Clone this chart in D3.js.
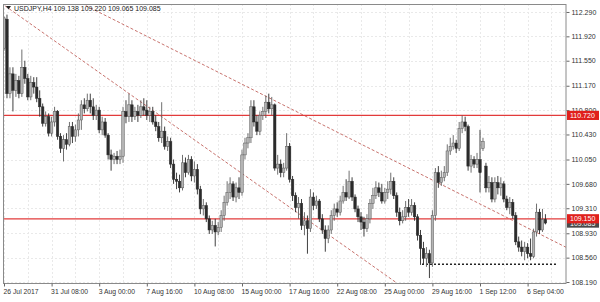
<!DOCTYPE html>
<html><head><meta charset="utf-8">
<script src="https://cdn.jsdelivr.net/npm/d3@7"></script>
<style>body{margin:0;background:#fff}svg{display:block}</style>
</head><body><svg id="c" width="600" height="302"></svg>
<script>
// ---- DATA (USDJPY H4) ----
const symbolTitle = "USDJPY,H4 109.138 109.220 109.065 109.085";
const open  = [111.74,112.18,111.05,111.35,111.10,111.25,111.05,111.45,111.28,111.00,111.22,111.15,110.98,110.85,110.60,110.70,110.45,110.62,110.78,110.40,110.22,110.35,110.28,110.55,110.40,110.50,110.65,110.88,110.82,110.95,110.85,110.72,110.80,110.50,110.62,110.42,110.12,110.05,110.10,110.05,110.10,110.78,110.70,110.88,110.70,110.78,110.72,110.85,110.80,110.72,110.78,110.62,110.55,110.38,110.48,110.25,110.32,109.98,109.75,109.72,109.62,110.00,109.85,110.05,109.80,109.90,109.60,109.30,109.35,109.15,108.98,109.05,108.95,109.02,109.20,109.40,109.55,109.68,109.48,109.62,109.55,110.12,110.30,110.38,110.85,110.62,110.48,110.72,110.78,110.92,110.82,110.88,109.92,109.98,109.85,109.92,110.25,109.75,109.50,109.32,109.38,109.05,109.12,109.00,109.48,109.35,109.42,109.15,108.98,108.85,108.98,109.20,109.30,109.25,109.42,109.55,109.48,109.72,109.48,109.30,109.18,109.10,109.00,109.15,109.38,109.50,109.62,109.55,109.42,109.55,109.60,109.72,109.50,109.25,109.12,109.18,109.32,109.25,109.35,109.18,108.90,108.70,108.55,108.62,108.48,109.20,109.85,109.70,109.78,109.85,110.18,110.25,110.30,110.22,110.52,110.62,110.55,109.95,110.05,109.98,110.05,110.22,109.95,109.62,109.70,109.45,109.70,109.62,109.68,109.45,109.32,109.40,109.20,108.80,108.72,108.65,108.72,108.62,108.58,108.95,109.25,108.98,109.138];
const high  = [112.22,112.25,111.45,111.45,111.35,111.32,111.72,111.55,111.35,111.32,111.30,111.30,111.10,110.90,110.78,110.75,110.70,110.85,110.80,110.45,110.42,110.45,110.62,110.62,110.58,110.75,110.95,110.98,111.05,111.05,110.98,110.88,110.85,110.70,110.68,110.45,110.20,110.15,110.18,110.20,110.85,110.95,111.05,110.95,110.85,110.88,110.95,110.98,110.95,110.85,110.85,110.72,110.62,110.92,110.55,110.40,110.38,110.05,109.85,109.82,110.12,110.08,110.12,110.10,110.02,109.98,109.65,109.45,109.40,109.20,109.12,109.15,109.10,109.28,109.50,109.72,109.78,109.72,109.70,109.78,110.20,110.38,110.45,110.95,110.95,110.72,110.78,110.85,111.02,111.05,111.00,110.90,110.12,110.05,110.00,110.45,110.30,109.80,109.55,109.48,109.45,109.25,109.20,109.60,109.55,109.50,109.45,109.22,109.05,109.05,109.28,109.38,109.40,109.50,109.65,109.75,109.88,109.78,109.52,109.35,109.25,109.18,109.22,109.45,109.62,109.72,109.70,109.68,109.62,109.72,109.85,109.78,109.55,109.32,109.28,109.42,109.45,109.45,109.40,109.22,108.98,108.80,108.72,108.68,109.28,109.92,109.95,109.88,109.95,110.28,110.38,110.42,110.35,110.62,110.72,110.70,110.58,110.12,110.10,110.15,110.50,110.38,110.00,109.80,109.78,109.78,109.80,109.78,109.72,109.50,109.48,109.45,109.25,108.88,108.82,108.80,108.78,108.85,109.00,109.38,109.30,109.30,109.220];
const low   = [111.70,110.98,110.98,110.78,111.00,110.98,111.00,111.20,110.95,110.95,111.05,110.92,110.70,110.55,110.55,110.40,110.40,110.55,110.35,110.15,110.02,110.20,110.25,110.30,110.32,110.40,110.50,110.75,110.78,110.75,110.65,110.65,110.45,110.42,110.38,110.05,109.88,109.98,109.98,109.98,110.00,110.60,110.62,110.62,110.65,110.62,110.68,110.72,110.65,110.62,110.58,110.48,110.32,110.30,110.20,110.18,109.92,109.68,109.60,109.55,109.58,109.78,109.82,109.72,109.70,109.52,109.22,109.20,109.10,108.92,108.92,108.73,108.90,108.95,109.12,109.35,109.45,109.42,109.40,109.45,109.50,110.05,110.22,110.30,110.55,110.42,110.42,110.65,110.68,110.75,110.72,109.88,109.82,109.78,109.78,109.88,109.70,109.42,109.25,109.15,108.98,108.90,108.62,108.95,109.28,109.30,109.10,108.92,108.65,108.78,108.92,109.12,109.18,109.20,109.38,109.42,109.45,109.42,109.25,109.10,108.98,108.88,108.95,109.08,109.30,109.45,109.48,109.38,109.38,109.45,109.52,109.45,109.18,109.05,109.08,109.12,109.18,109.20,109.12,108.82,108.45,108.45,108.42,108.25,108.42,109.12,109.62,109.65,109.72,109.80,110.12,110.20,110.15,110.18,110.45,110.48,109.88,109.85,109.92,109.92,109.55,110.18,109.55,109.55,109.40,109.40,109.52,109.50,109.40,109.28,109.22,109.15,108.75,108.65,108.58,108.52,108.55,108.52,108.55,108.88,108.92,108.95,109.065];
const close = [112.20,111.05,111.35,111.10,111.25,111.05,111.45,111.28,111.00,111.22,111.15,110.98,110.85,110.60,110.70,110.45,110.62,110.78,110.40,110.22,110.35,110.28,110.55,110.40,110.50,110.65,110.88,110.82,110.95,110.85,110.72,110.80,110.50,110.62,110.42,110.12,110.05,110.10,110.05,110.10,110.78,110.70,110.88,110.70,110.78,110.72,110.85,110.80,110.72,110.78,110.62,110.55,110.38,110.48,110.25,110.32,109.98,109.75,109.72,109.62,110.00,109.85,110.05,109.80,109.90,109.60,109.30,109.35,109.15,108.98,109.05,108.95,109.02,109.20,109.40,109.55,109.68,109.48,109.62,109.55,110.12,110.30,110.38,110.85,110.62,110.48,110.72,110.78,110.92,110.82,110.88,109.92,109.98,109.85,109.92,110.25,109.75,109.50,109.32,109.38,109.05,109.12,109.00,109.48,109.35,109.42,109.15,108.98,108.85,108.98,109.20,109.30,109.25,109.42,109.55,109.48,109.72,109.48,109.30,109.18,109.10,109.00,109.15,109.38,109.50,109.62,109.55,109.42,109.55,109.60,109.72,109.50,109.25,109.12,109.18,109.32,109.25,109.35,109.18,108.90,108.70,108.55,108.62,108.48,109.20,109.85,109.70,109.78,109.85,110.18,110.25,110.30,110.22,110.52,110.62,110.55,109.95,110.05,109.98,110.05,109.85,110.32,109.62,109.70,109.45,109.70,109.62,109.68,109.45,109.32,109.40,109.20,108.80,108.72,108.65,108.72,108.62,108.58,108.95,109.25,108.98,109.14,109.085];

const xTickBars   = [0,16,32,48,64,80,96,112,128,144,160,176];
const xTickLabels = ["26 Jul 2017","31 Jul 08:00","3 Aug 00:00","7 Aug 16:00","10 Aug 08:00","15 Aug 00:00","17 Aug 16:00","22 Aug 08:00","25 Aug 00:00","29 Aug 16:00","1 Sep 12:00","6 Sep 04:00"];
const yTickValues = [112.290,111.920,111.550,111.170,110.800,110.430,110.050,109.680,109.310,108.930,108.560,108.190];
const levelPrices = [110.720,109.150];
const currentPrice = 109.085;
const supportPrice = 108.46, supportFromBar = 140.5, supportToBar = 186;
// trend lines: [bar1, price1, bar2, price2]
const trendUpper = [30,112.33,180,108.92];
const trendLower = [4,112.266,130,108.24];

// ---- LAYOUT ----
const L=3, R=566, T=4, B=283;
const svg=d3.select("#c");
svg.append("rect").attr("width",600).attr("height",302).attr("fill","#fff");

const x=d3.scaleLinear().domain([0,182]).range([4,545.45]);
const y=d3.scaleLinear().domain([108.175,112.411]).range([B,T]);
const font="'Liberation Sans', Arial, sans-serif";

svg.append("clipPath").attr("id","clip").append("rect").attr("x",L).attr("y",T).attr("width",R-L).attr("height",B-T);
const g=svg.append("g").attr("clip-path","url(#clip)");

// grid
const gridBars=d3.range(0,189,8);
g.selectAll(".vg").data(gridBars).enter().append("line")
 .attr("x1",d=>Math.round(x(d))+0.5).attr("x2",d=>Math.round(x(d))+0.5).attr("y1",T).attr("y2",B)
 .attr("stroke","#e9e9e9").attr("stroke-dasharray","2,2");
g.selectAll(".hg").data(yTickValues).enter().append("line")
 .attr("x1",L).attr("x2",R).attr("y1",d=>Math.round(y(d))+0.5).attr("y2",d=>Math.round(y(d))+0.5)
 .attr("stroke","#e9e9e9").attr("stroke-dasharray","2,2");

// trend lines (extended & clipped)
function ext(t){const [b1,p1,b2,p2]=t;const s=(p2-p1)/(b2-b1);const a=x.invert(L-2),b=x.invert(R+2);return [[a,p1+s*(a-b1)],[b,p1+s*(b-b1)]];}
[ext(trendUpper), ext(trendLower)].forEach(seg=>{
  g.append("line").attr("x1",x(seg[0][0])).attr("y1",y(seg[0][1])).attr("x2",x(seg[1][0])).attr("y2",y(seg[1][1]))
   .attr("stroke","#c8736e").attr("stroke-width",1).attr("stroke-dasharray","3,2");
});

// horizontal levels
g.selectAll(".lvl").data(levelPrices).enter().append("line")
 .attr("x1",L).attr("x2",R).attr("y1",d=>y(d)).attr("y2",d=>y(d))
 .attr("stroke","#e23b3b").attr("stroke-width",1.3);

// support dotted line
g.append("line").attr("x1",x(supportFromBar)).attr("x2",x(supportToBar)).attr("y1",y(supportPrice)).attr("y2",y(supportPrice))
 .attr("stroke","#222").attr("stroke-width",1.3).attr("stroke-dasharray","2,2");

// candles
const idx=d3.range(open.length);
const bw=2.5;
const cg=g.append("g");
idx.forEach(i=>{
  const bull=close[i]>=open[i];
  const cx=x(i);
  cg.append("line").attr("x1",cx).attr("x2",cx).attr("y1",y(high[i])).attr("y2",y(low[i]))
    .attr("stroke",bull?"#606060":"#2a2a2a").attr("stroke-width",0.9);
  const top=y(Math.max(open[i],close[i])), bot=y(Math.min(open[i],close[i]));
  cg.append("rect").attr("x",cx-bw/2).attr("y",top).attr("width",bw).attr("height",Math.max(0.8,bot-top))
    .attr("fill",bull?"#b4b4b4":"#2b2b2b").attr("stroke",bull?"#585858":"#2b2b2b").attr("stroke-width",0.5);
});

// frame
svg.append("rect").attr("x",L+0.5).attr("y",T+0.5).attr("width",R-L-0.5).attr("height",B-T).attr("fill","none").attr("stroke","#8a8a8a").attr("stroke-width",1);

// y axis
const yAxis=d3.axisRight(y).tickValues(yTickValues).tickFormat(d3.format(".3f")).tickSize(3).tickPadding(2);
const ya=svg.append("g").attr("transform",`translate(${R+0.5},0)`).call(yAxis);
ya.select(".domain").remove();
ya.selectAll("line").attr("stroke","#666");
ya.selectAll("text").attr("font-family",font).attr("font-size",7).attr("fill","#333");

// x axis
const xAxis=d3.axisBottom(x).tickValues(xTickBars).tickFormat((d,i)=>xTickLabels[i]).tickSize(3).tickPadding(3);
const xa=svg.append("g").attr("transform",`translate(0,${B+0.5})`).call(xAxis);
xa.select(".domain").remove();
xa.selectAll("line").attr("stroke","#666");
xa.selectAll("text").attr("font-family",font).attr("font-size",6.8).attr("fill","#333").attr("text-anchor","start").attr("dx",-1);

// price labels on right
function priceTag(p,fill){
  const gg=svg.append("g");
  gg.append("rect").attr("x",R+1).attr("y",y(p)-4.6).attr("width",32).attr("height",9.2).attr("fill",fill);
  gg.append("text").attr("x",R+4).attr("y",y(p)).attr("dy","0.35em").attr("font-family",font).attr("font-size",7).attr("fill","#fff").text(d3.format(".3f")(p));
}
priceTag(currentPrice,"#4a4a4a");
levelPrices.forEach(p=>priceTag(p,"#e0201c"));

// header
svg.append("path").attr("d","M6,6 L11,6 L8.5,9.5 Z").attr("fill","#222");
svg.append("text").attr("x",14).attr("y",11).attr("font-family",font).attr("font-size",7).attr("fill","#222").text(symbolTitle);
</script>
</body></html>
